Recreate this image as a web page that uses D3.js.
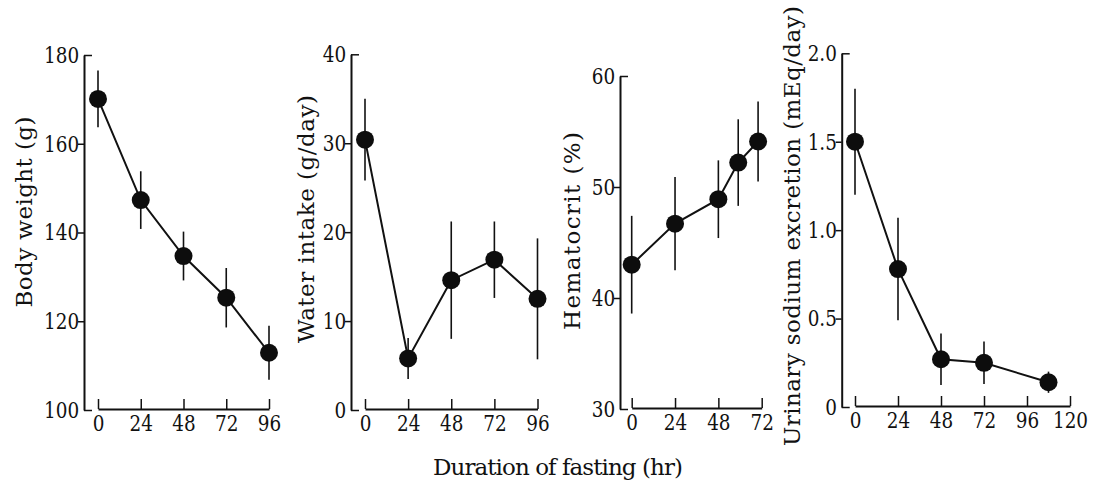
<!DOCTYPE html>
<html>
<head>
<meta charset="utf-8">
<script src="https://cdn.jsdelivr.net/npm/d3@7"></script>
<style>
  body { margin: 0; background: #fff; }
  svg text { font-family: "DejaVu Serif", "Liberation Serif", "Times New Roman", serif; fill: #111; }
</style>
</head>
<body>
<script>

// ---- data ----
let hoursBW = [0, 24, 48, 72, 96];
let bodyWeight = [170.1, 147.3, 134.7, 125.3, 112.9];
let bodyWeightErr = [6.4, 6.5, 5.5, 6.7, 6.1];
let bwTicks = [100, 120, 140, 160, 180];
let bwHourTicks = [0, 24, 48, 72, 96];

let hoursWI = [0, 24, 48, 72, 96];
let waterIntake = [30.4, 5.8, 14.6, 16.9, 12.5];
let waterIntakeErr = [4.6, 2.3, 6.6, 4.3, 6.8];
let wiTicks = [0, 10, 20, 30, 40];
let wiHourTicks = [0, 24, 48, 72, 96];

let hoursHt = [0, 24, 48, 59, 70];
let hematocrit = [43.0, 46.7, 48.9, 52.2, 54.1];
let hematocritErr = [4.4, 4.2, 3.5, 3.9, 3.6];
let htTicks = [30, 40, 50, 60];
let htHourTicks = [0, 24, 48, 72];

let hoursNa = [0, 24, 48, 72, 108];
let sodium = [1.50, 0.78, 0.27, 0.25, 0.14];
let sodiumErr = [0.30, 0.29, 0.145, 0.12, 0.06];
let naTicks = [0, 0.5, 1.0, 1.5, 2.0];
let naHourTicks = [0, 24, 48, 72, 96, 120];

let xTitle = "Duration of fasting (hr)";

let serif = "'DejaVu Serif', 'Liberation Serif', 'Times New Roman', serif";

let canvasW = 1096;
let canvasH = 481;

let svg = d3.select("body").append("svg")
  .attr("width", canvasW)
  .attr("height", canvasH)
  .style("background-color", "#fff");


function drawPanel(p) {

  let x = d3.scaleLinear().domain(p.xDomain).range([p.x0, p.x1]);
  let y = d3.scaleLinear().domain(p.yDomain).range([p.yBottom, p.yTop]);

  let g = svg.append("g");

  // y axis, ticks to the left, end ticks turned to the right
  let yAxis = g.append("g")
    .attr("transform", "translate(" + p.axisX + ",0)")
    .call(d3.axisLeft(y).tickValues(p.yTicks).tickSize(6).tickSizeOuter(0).tickPadding(0)
      .tickFormat(p.yFormat));
  yAxis.attr("font-family", null);
  yAxis.select(".domain").attr("stroke", "#111").attr("stroke-width", 2);
  yAxis.selectAll(".tick line").attr("stroke", "#111").attr("stroke-width", 1.5)
    .filter(d => d == p.yDomain[0] || d == p.yDomain[1])
    .attr("x2", 8);
  yAxis.selectAll(".tick text")
    .attr("font-size", "23px")
    .attr("transform", "scale(0.8,1)")   // the printed digits are tall and narrow
    .style("font-family", serif).attr("fill", "#111");

  // x axis, ticks pointing up, labels below
  let xAxis = g.append("g")
    .attr("transform", "translate(0," + (p.yBottom - 1) + ")")
    .call(d3.axisBottom(x).tickValues(p.xTicks).tickSizeInner(-10).tickSizeOuter(0).tickPadding(6));
  xAxis.attr("font-family", null);
  xAxis.select(".domain").attr("stroke", "#111").attr("stroke-width", 2);
  xAxis.selectAll(".tick line").attr("stroke", "#111").attr("stroke-width", 1.5);
  xAxis.selectAll(".tick text")
    .attr("font-size", "23px")
    .attr("transform", "scale(0.8,1)")
    .style("font-family", serif).attr("fill", "#111");

  let pts = p.hours.map((h, i) => ({ h: h, v: p.values[i], e: p.errs[i] }));

  // error bars
  g.selectAll("line.err")
    .data(pts)
    .join("line")
    .attr("class", "err")
    .attr("x1", d => x(d.h))
    .attr("x2", d => x(d.h))
    .attr("y1", d => y(d.v - d.e))
    .attr("y2", d => y(d.v + d.e))
    .attr("stroke", "#111")
    .attr("stroke-width", 1.6);

  // connecting line
  g.append("path")
    .datum(pts)
    .attr("fill", "none")
    .attr("stroke", "#111")
    .attr("stroke-width", 2)
    .attr("d", d3.line().x(d => x(d.h)).y(d => y(d.v)));

  // markers
  g.selectAll("circle")
    .data(pts)
    .join("circle")
    .attr("cx", d => x(d.h))
    .attr("cy", d => y(d.v))
    .attr("r", 9)
    .attr("fill", "#0d0d0d");

  // y title
  g.append("text")
    .attr("transform", "translate(" + p.titleX + "," + p.titleY + ") rotate(-90)")
    .attr("text-anchor", "middle")
    .attr("dy", "0.35em")
    .attr("font-size", "23px")
    .style("font-family", serif)
    .attr("textLength", p.titleLen)
    .attr("lengthAdjust", "spacing")
    .text(p.title);
}


drawPanel({
  hours: hoursBW, values: bodyWeight, errs: bodyWeightErr,
  xDomain: [0, 96], xTicks: bwHourTicks, x0: 98, x1: 269,
  yDomain: [100, 180], yTicks: bwTicks, yTop: 55, yBottom: 410, axisX: 84,
  yFormat: d => d,
  title: "Body weight (g)", titleX: 24, titleY: 212, titleLen: 191
});

drawPanel({
  hours: hoursWI, values: waterIntake, errs: waterIntakeErr,
  xDomain: [0, 96], xTicks: wiHourTicks, x0: 365, x1: 537.5,
  yDomain: [0, 40], yTicks: wiTicks, yTop: 54.3, yBottom: 410, axisX: 351,
  yFormat: d => d,
  title: "Water intake (g/day)", titleX: 306, titleY: 219, titleLen: 248
});

drawPanel({
  hours: hoursHt, values: hematocrit, errs: hematocritErr,
  xDomain: [0, 72], xTicks: htHourTicks, x0: 631.7, x1: 761.7,
  yDomain: [30, 60], yTicks: htTicks, yTop: 76, yBottom: 409, axisX: 620,
  yFormat: d => d,
  title: "Hematocrit (%)", titleX: 572, titleY: 231, titleLen: 198
});

drawPanel({
  hours: hoursNa, values: sodium, errs: sodiumErr,
  xDomain: [0, 120], xTicks: naHourTicks, x0: 855, x1: 1070,
  yDomain: [0, 2.0], yTicks: naTicks, yTop: 53.3, yBottom: 407, axisX: 841.7,
  yFormat: d => d == 0 ? "0" : d3.format(".1f")(d),
  title: "Urinary sodium excretion (mEq/day)", titleX: 792, titleY: 226, titleLen: 440
});


svg.append("text")
  .attr("x", 558)
  .attr("y", 475)
  .attr("text-anchor", "middle")
  .attr("font-size", "23px")
  .style("font-family", serif)
  .attr("textLength", 250)
  .attr("lengthAdjust", "spacing")
  .text(xTitle);

</script>
</body>
</html>
